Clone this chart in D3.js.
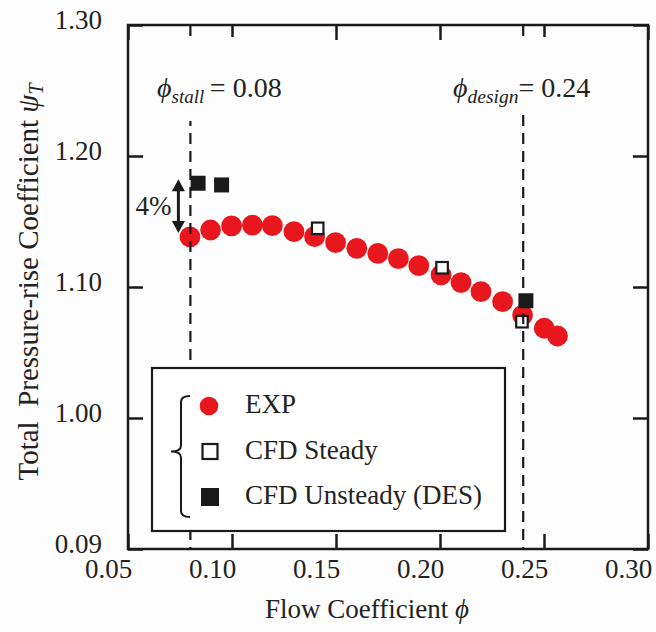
<!DOCTYPE html>
<html>
<head>
<meta charset="utf-8">
<script src="https://cdn.jsdelivr.net/npm/d3@7"></script>
<style>
  html, body { margin: 0; padding: 0; background: #fdfdfd; }
  svg { display: block; }
  text { font-family: "Liberation Serif", "Times New Roman", serif; fill: #222; }
</style>
</head>
<body>
<svg id="chart" width="656" height="632"></svg>
<script>
// Experimental total pressure-rise curve
const expPhi = [0.0798, 0.0897, 0.0998, 0.1098, 0.1194, 0.1298, 0.1397, 0.1498, 0.1600, 0.1701,
                0.1800, 0.1898, 0.2005, 0.2101, 0.2197, 0.2301, 0.2397, 0.2501, 0.2565];
const expPsi = [1.1382, 1.1435, 1.1466, 1.1473, 1.1468, 1.1422, 1.1384, 1.1338, 1.1295, 1.1257,
                1.1216, 1.1163, 1.1092, 1.1034, 1.0964, 1.0888, 1.0786, 1.0685, 1.0626];
// CFD steady (RANS) points
const steadyPhi = [0.1412, 0.2010, 0.2394];
const steadyPsi = [1.1448, 1.1147, 1.0735];
// CFD unsteady (DES) points
const unsteadyPhi = [0.0837, 0.0950, 0.2413];
const unsteadyPsi = [1.1792, 1.1779, 1.0895];

const xTicks = [0.05, 0.10, 0.15, 0.20, 0.25, 0.30];
const xTickLabels = ["0.05", "0.10", "0.15", "0.20", "0.25", "0.30"];
const yTicks = [0.90, 1.00, 1.10, 1.20, 1.30];
const yTickLabels = ["0.09", "1.00", "1.10", "1.20", "1.30"];

const phiStall = 0.08;
const phiDesign = 0.24;
const legendLabels = ["EXP", "CFD Steady", "CFD Unsteady (DES)"];

const RED = "#e8161d";
const INK = "#1a1a1a";
const BG = "#fdfdfd";
const FONT = "\"Liberation Serif\", \"Times New Roman\", serif";

const svg = d3.select("#chart");
const W = 656, H = 632;
const m = { left: 128, right: 8, top: 25, bottom: 83 };

const x = d3.scaleLinear().domain([0.05, 0.30]).range([m.left, W - m.right]);
const y = d3.scaleLinear().domain([0.90, 1.30]).range([H - m.bottom, m.top]);

// ---- axes (inward ticks on all four sides) ----
function styleAxis(g) {
  g.attr("font-family", FONT).attr("font-size", 27);
  g.select(".domain").remove();
  g.selectAll(".tick line").attr("stroke", INK).attr("stroke-width", 2.5);
  g.selectAll(".tick text").attr("fill", "#222");
}

const axB = svg.append("g")
  .attr("transform", `translate(0,${y(0.90)})`)
  .call(d3.axisBottom(x).tickValues(xTicks).tickFormat((d, i) => xTickLabels[i]).tickSize(-15).tickSizeOuter(0))
  .call(styleAxis);
axB.selectAll(".tick text").attr("y", 29).attr("dy", 0).attr("dx", -20);

svg.append("g")
  .attr("transform", `translate(0,${y(1.30)})`)
  .call(d3.axisTop(x).tickValues(xTicks).tickFormat("").tickSize(-15).tickSizeOuter(0))
  .call(styleAxis);

const axL = svg.append("g")
  .attr("transform", `translate(${x(0.05)},0)`)
  .call(d3.axisLeft(y).tickValues(yTicks).tickFormat((d, i) => yTickLabels[i]).tickSize(-15).tickSizeOuter(0))
  .call(styleAxis);
axL.selectAll(".tick text").attr("x", -26).attr("dy", 0).attr("y", 3);

svg.append("g")
  .attr("transform", `translate(${x(0.30)},0)`)
  .call(d3.axisRight(y).tickValues(yTicks).tickFormat("").tickSize(-15).tickSizeOuter(0))
  .call(styleAxis);

// plot frame
svg.append("rect")
  .attr("x", x(0.05)).attr("y", y(1.30))
  .attr("width", x(0.30) - x(0.05)).attr("height", y(0.90) - y(1.30))
  .attr("fill", "none").attr("stroke", INK).attr("stroke-width", 2.5);

// ---- data ----
svg.append("g").selectAll("circle")
  .data(expPhi.map((p, i) => [p, expPsi[i]]))
  .join("circle")
  .attr("cx", d => x(d[0])).attr("cy", d => y(d[1]))
  .attr("r", 10.4).attr("fill", RED);

const sSteady = 11.5;
svg.append("g").selectAll("rect")
  .data(steadyPhi.map((p, i) => [p, steadyPsi[i]]))
  .join("rect")
  .attr("x", d => x(d[0]) - sSteady / 2).attr("y", d => y(d[1]) - sSteady / 2)
  .attr("width", sSteady).attr("height", sSteady)
  .attr("fill", "#fff").attr("stroke", INK).attr("stroke-width", 2.2);

const sUnsteady = 15;
svg.append("g").selectAll("rect")
  .data(unsteadyPhi.map((p, i) => [p, unsteadyPsi[i]]))
  .join("rect")
  .attr("x", d => x(d[0]) - sUnsteady / 2).attr("y", d => y(d[1]) - sUnsteady / 2)
  .attr("width", sUnsteady).attr("height", sUnsteady)
  .attr("fill", INK);

// ---- stall / design reference lines ----
svg.append("g").selectAll("line")
  .data([phiStall, phiDesign])
  .join("line")
  .attr("x1", d => x(d)).attr("x2", d => x(d))
  .attr("y1", y(1.30)).attr("y2", y(0.90))
  .attr("stroke", INK).attr("stroke-width", 2.2)
  .attr("stroke-dasharray", "11,7");

function refLabel(phi, sub, value, x0, subSize, gapBefore, padBelow) {
  const g = svg.append("g");
  const bg = g.append("rect").attr("fill", BG);
  const t = g.append("text")
    .attr("x", x0).attr("y", 97)
    .attr("font-size", 28);
  t.append("tspan").attr("font-style", "italic").text("\u03D5");
  t.append("tspan").attr("font-style", "italic").attr("font-size", subSize).attr("dy", 6).text(sub);
  t.append("tspan").attr("dy", -6).text((gapBefore ? "\u2009" : "") + "= " + value);
  const b = t.node().getBBox();
  const lx = x(phi);
  bg.attr("x", Math.min(b.x, lx - 4)).attr("width", Math.max(b.width, lx + 4 - b.x))
    .attr("y", y(1.30) + 12).attr("height", (b.y + b.height + padBelow) - (y(1.30) + 12));
}
refLabel(phiStall, "stall", "0.08", 157, 19, true, 14);
refLabel(phiDesign, "design", "0.24", 453, 19.5, false, 2);

// ---- 4% rise annotation ----
const ax = x(phiStall) - 12;
const yTop = y(unsteadyPsi[0]) - 4;
const yBot = y(expPsi[0]) - 4;
const head = 11;
svg.append("line")
  .attr("x1", ax).attr("x2", ax).attr("y1", yTop + head).attr("y2", yBot - head)
  .attr("stroke", INK).attr("stroke-width", 3);
svg.append("path")
  .attr("d", `M${ax},${yTop} L${ax - 6.5},${yTop + head + 1} L${ax + 6.5},${yTop + head + 1} Z`)
  .attr("fill", INK);
svg.append("path")
  .attr("d", `M${ax},${yBot} L${ax - 6.5},${yBot - head - 1} L${ax + 6.5},${yBot - head - 1} Z`)
  .attr("fill", INK);
svg.append("text")
  .attr("x", ax - 7).attr("y", (yTop + yBot) / 2 + 8.5)
  .attr("text-anchor", "end").attr("font-size", 27)
  .text("4%");

// ---- legend ----
const L = { x: 152, y: 368, w: 353, h: 163 };
const lg = svg.append("g");
lg.append("rect")
  .attr("x", L.x).attr("y", L.y).attr("width", L.w).attr("height", L.h)
  .attr("fill", "#fff").attr("stroke", INK).attr("stroke-width", 2.2);

const rowY = i => L.y + 38 + i * 45.5;
const bx = L.x + 29;
lg.append("path")
  .attr("d", `M${bx + 9},${rowY(0) - 10} Q${bx},${rowY(0) - 10} ${bx},${rowY(0) - 4}
              L${bx},${rowY(1) - 6} Q${bx},${rowY(1)} ${bx - 10},${rowY(1)}
              Q${bx},${rowY(1)} ${bx},${rowY(1) + 6}
              L${bx},${rowY(2) + 14} Q${bx},${rowY(2) + 20} ${bx + 9},${rowY(2) + 20}`)
  .attr("fill", "none").attr("stroke", INK).attr("stroke-width", 2);

const mx = L.x + 58;
lg.append("circle").attr("cx", mx - 1).attr("cy", rowY(0)).attr("r", 9.3).attr("fill", RED);
lg.append("rect").attr("x", mx - 7.5).attr("y", rowY(1) - 7.5).attr("width", 15).attr("height", 15)
  .attr("fill", "#fff").attr("stroke", INK).attr("stroke-width", 2.2);
lg.append("rect").attr("x", mx - 9).attr("y", rowY(2) - 9).attr("width", 18).attr("height", 18)
  .attr("fill", INK);

lg.selectAll("text.lab")
  .data(legendLabels)
  .join("text")
  .attr("class", "lab")
  .attr("x", L.x + 93).attr("y", (d, i) => rowY(i) + 7)
  .attr("font-size", 27)
  .text(d => d);

// ---- axis titles ----
const xt = svg.append("text")
  .attr("x", 367).attr("y", 618)
  .attr("text-anchor", "middle").attr("font-size", 27);
xt.append("tspan").text("Flow Coefficient ");
xt.append("tspan").attr("font-style", "italic").text("\u03D5");

const yt = svg.append("text")
  .attr("transform", "translate(38,282) rotate(-90)")
  .attr("text-anchor", "middle").attr("font-size", 29)
  .style("white-space", "pre");
yt.append("tspan").text("Total  Pressure-rise Coefficient ");
yt.append("tspan").attr("font-style", "italic").text("\u03C8");
yt.append("tspan").attr("font-style", "italic").attr("font-size", 20).attr("dy", 5).text("T");
</script>
</body>
</html>
